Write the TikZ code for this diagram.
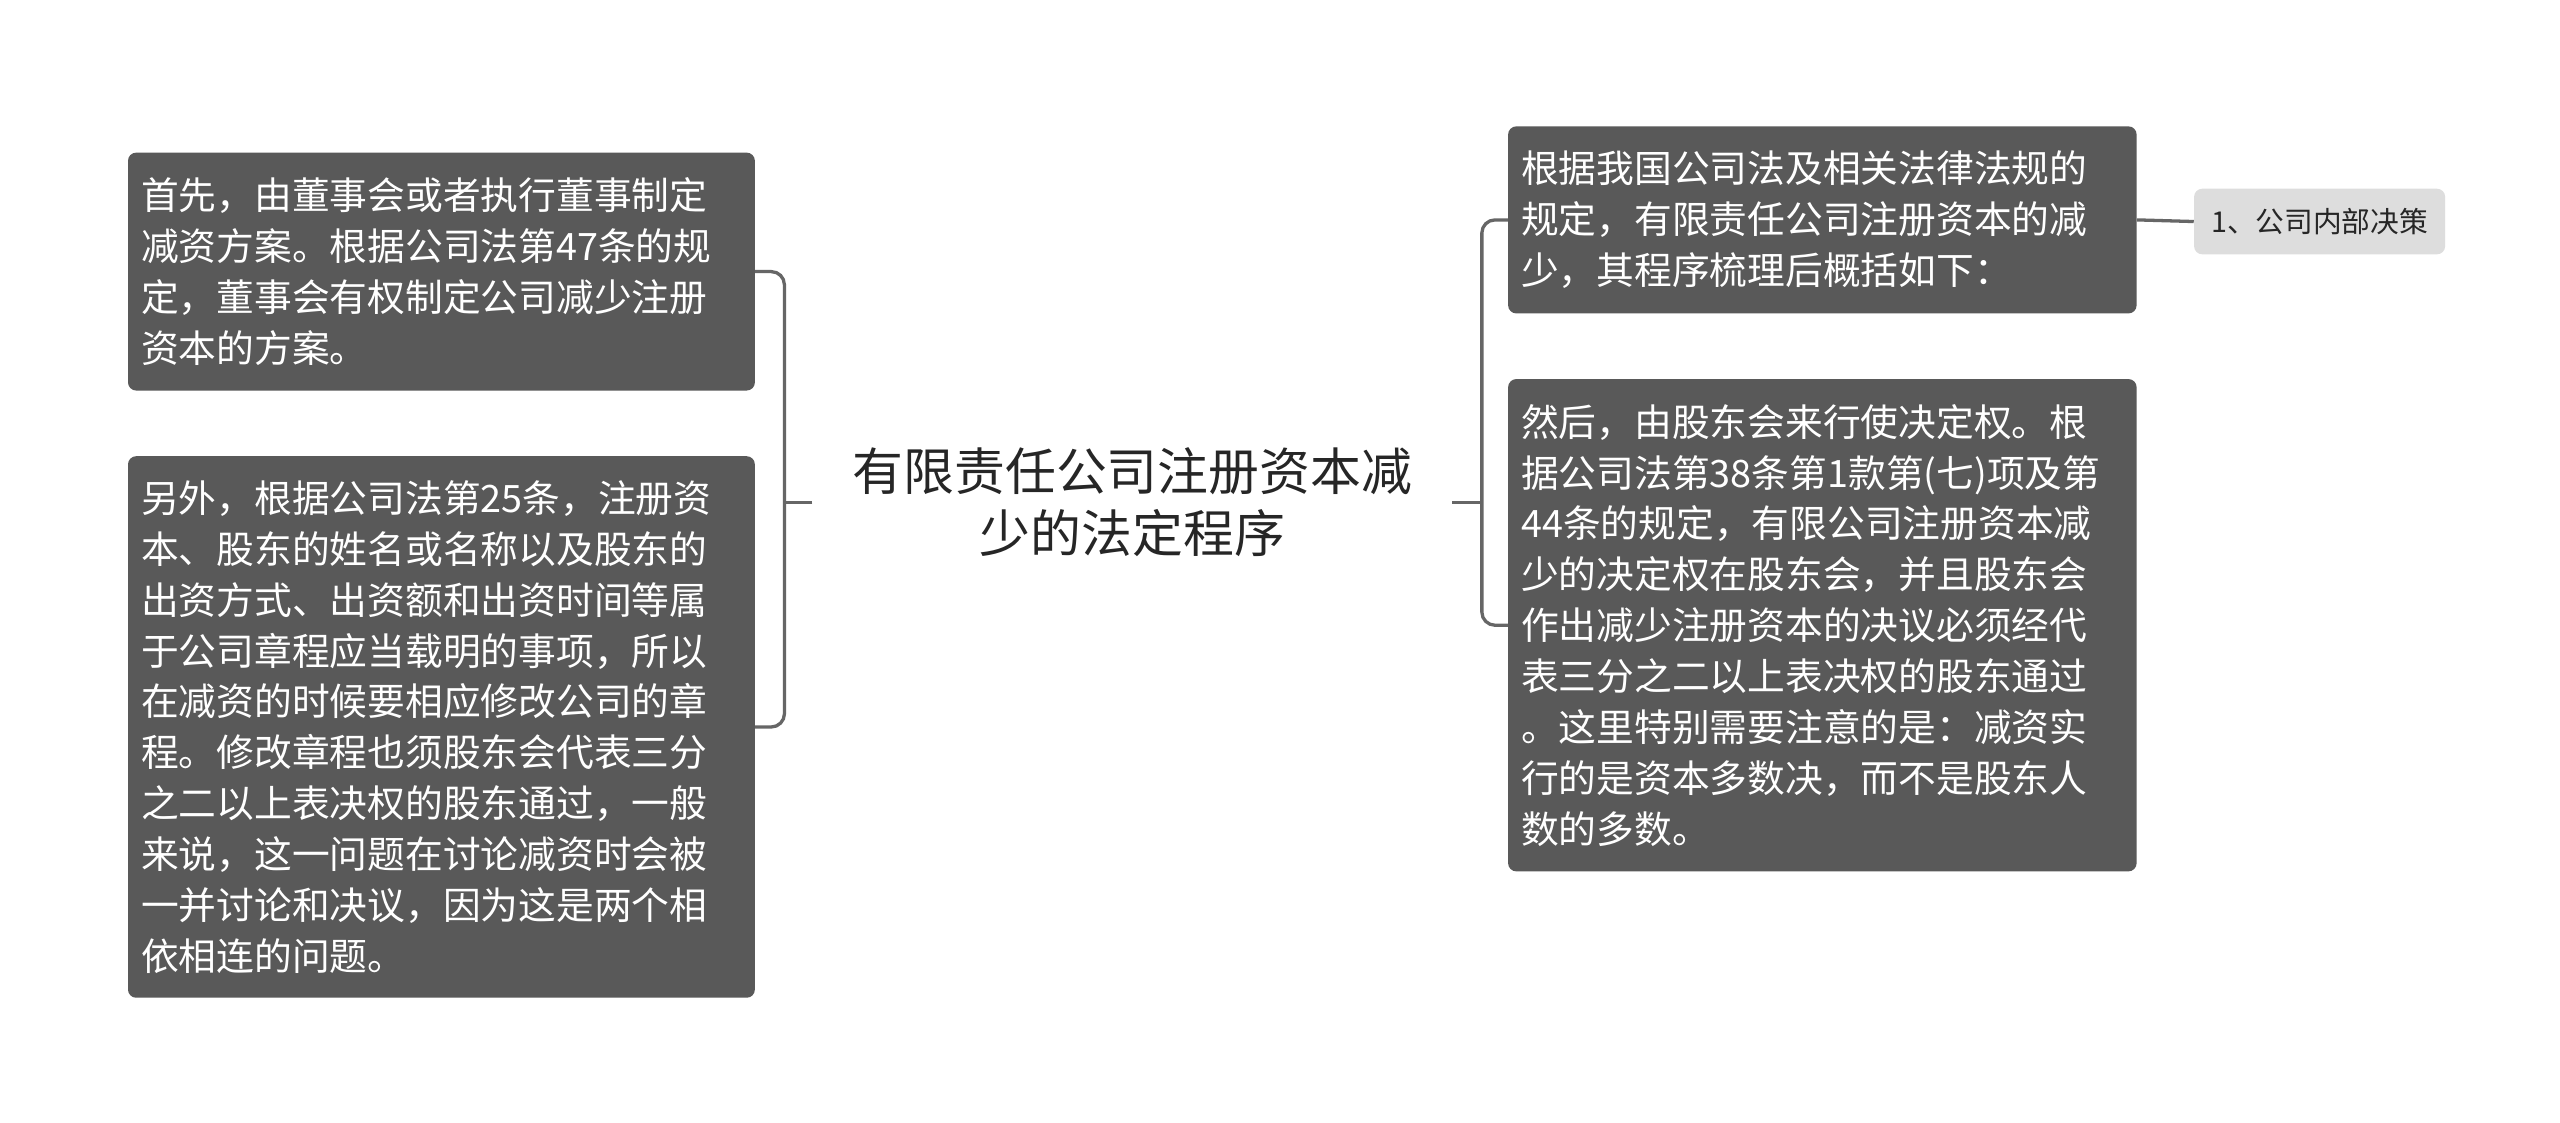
\documentclass[tikz,border=0pt]{standalone}
\usepackage{fontspec}
\setmainfont{Noto Sans CJK SC}
\newfontfamily\cjk{Noto Sans CJK SC}
\begin{document}
\begin{tikzpicture}[x=1pt,y=-1pt,
  box/.style={fill=boxgray,rounded corners=5pt,text=white,align=left,inner sep=0pt,font=\cjk\fontsize{23}{31}\selectfont,anchor=center},
  conn/.style={draw=linegray,line width=2pt,rounded corners=8pt}]
\definecolor{boxgray}{HTML}{595959}
\definecolor{linegray}{HTML}{666666}
\definecolor{lightbox}{HTML}{DDDDDD}
\useasboundingbox (0,0) rectangle (1560,684);
\fill[white] (0,0) rectangle (1560,684);
\node[box,minimum width=382pt,minimum height=145pt,text width=366pt] (l1) at (269,165.5) {首先，由董事会或者执行董事制定\\减资方案。根据公司法第47条的规\\定，董事会有权制定公司减少注册\\资本的方案。};
\node[box,minimum width=382pt,minimum height=330pt,text width=366pt] (l2) at (269,443) {另外，根据公司法第25条，注册资\\本、股东的姓名或名称以及股东的\\出资方式、出资额和出资时间等属\\于公司章程应当载明的事项，所以\\在减资的时候要相应修改公司的章\\程。修改章程也须股东会代表三分\\之二以上表决权的股东通过，一般\\来说，这一问题在讨论减资时会被\\一并讨论和决议，因为这是两个相\\依相连的问题。};
\node[align=center,font=\cjk\fontsize{31}{38}\selectfont,text=black!85] (c) at (690,306) {有限责任公司注册资本减\\少的法定程序};
\node[box,minimum width=383pt,minimum height=114pt,text width=367pt] (r1) at (1110.5,134) {根据我国公司法及相关法律法规的\\规定，有限责任公司注册资本的减\\少，其程序梳理后概括如下：};
\node[box,minimum width=383pt,minimum height=300pt,text width=367pt] (r2) at (1110.5,381) {然后，由股东会来行使决定权。根\\据公司法第38条第1款第(七)项及第\\44条的规定，有限公司注册资本减\\少的决定权在股东会，并且股东会\\作出减少注册资本的决议必须经代\\表三分之二以上表决权的股东通过\\。这里特别需要注意的是：减资实\\行的是资本多数决，而不是股东人\\数的多数。};
\node[fill=lightbox,rounded corners=5pt,minimum width=153pt,minimum height=40pt,inner sep=0pt,font=\cjk\fontsize{17.5}{20}\selectfont,text=black!85] (s) at (1413.5,135) {1、公司内部决策};
\coordinate (cl) at (495,306);
\coordinate (cr) at (885,306);
\draw[conn] (cl) -- (478,306);
\draw[conn] (l1.east) -- (478,165.5) -- (478,443) -- (l2.east);
\draw[conn] (cr) -- (903,306);
\draw[conn] (r1.west) -- (903,134) -- (903,381) -- (r2.west);
\draw[conn] (r1.east) -- (s.west);
\end{tikzpicture}
\end{document}
